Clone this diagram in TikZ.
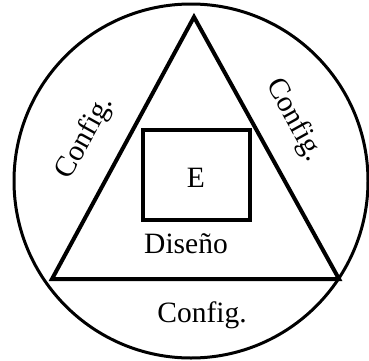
\documentclass[tikz,border=0pt]{standalone}
\usepackage{fontspec}
\setmainfont{Liberation Serif}
\begin{document}
\begin{tikzpicture}[x=1pt,y=1pt,
  lbl/.style={inner sep=0pt,font=\fontsize{29.5}{31}\selectfont},
  ring/.style={draw,circle,line width=3pt,minimum size=354pt,inner sep=0pt},
  tri/.style={draw,line width=4pt,miter limit=10},
  ebox/.style={draw,line width=4pt,minimum width=107pt,minimum height=90pt,inner sep=0pt}]
\useasboundingbox (0,0) rectangle (369,360);
\node[ring] (c) at (191,179) {};
\coordinate (ta) at (194,343);
\coordinate (tl) at (52,81);
\coordinate (tr) at (339,81);
\draw[tri] (ta) -- (tl) -- (tr) -- cycle;
\node[ebox] (sq) at (196.5,185) {};
\node[lbl,anchor=base] (e) at (196,173) {E};
\node[lbl,anchor=base] (d) at (186,107) {Diseño};
\node[lbl,anchor=base] (cb) at (202,38) {Config.};
\node[lbl,rotate=61] (cl) at (85,222) {Config.};
\node[lbl,rotate=-61] (cr) at (294,240) {Config.};
\end{tikzpicture}
\end{document}
